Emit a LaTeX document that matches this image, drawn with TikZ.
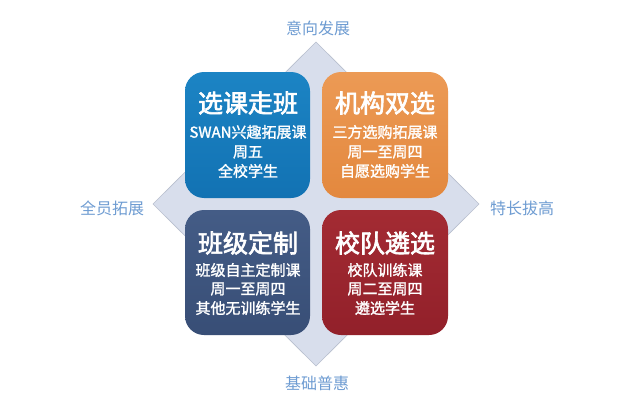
\documentclass[tikz,border=0pt]{standalone}
\usepackage{fontspec}
\newfontfamily\cjk{Noto Sans CJK SC}
\newfontfamily\cjkb{Noto Sans CJK SC}[FakeBold=1.5]
\newfontfamily\cjkbb{Noto Sans CJK SC}[FakeBold=2.5]
\definecolor{cblue}{HTML}{1272B3}
\definecolor{cblueT}{HTML}{1C84C4}
\definecolor{corange}{HTML}{E3883E}
\definecolor{corangeT}{HTML}{EC9A55}
\definecolor{cnavy}{HTML}{384E76}
\definecolor{cnavyT}{HTML}{445C86}
\definecolor{cred}{HTML}{92202A}
\definecolor{credT}{HTML}{A32B33}
\definecolor{cdiam}{HTML}{D8DEEC}
\definecolor{cdiamline}{HTML}{B8BFCE}
\definecolor{clabel}{HTML}{6E9CD2}
\begin{document}
\begin{tikzpicture}[x=1pt,y=-1pt,
  quad/.style={rounded corners=19pt},
  title/.style={text=white,font=\cjkbb\fontsize{25}{25}\selectfont,inner sep=0pt,anchor=center},
  sub/.style={text=white,font=\cjkb\fontsize{15}{15}\selectfont,inner sep=0pt,anchor=center},
  outer/.style={text=clabel,font=\cjk\fontsize{16}{16}\selectfont,inner sep=0pt,anchor=center}]
\useasboundingbox[fill=white] (0,0) rectangle (640,415);
% diamond
\coordinate (dt) at (316,42);
\coordinate (dr) at (479,204);
\coordinate (db) at (316,366);
\coordinate (dl) at (153,204);
\fill[cdiam,draw=cdiamline,line width=0.6pt] (dt) -- (dr) -- (db) -- (dl) -- cycle;
% boxes
\shade[quad,top color=cblueT,bottom color=cblue] (185,72) rectangle (310,198);
\shade[quad,top color=corangeT,bottom color=corange] (322,72) rectangle (448,198);
\shade[quad,top color=cnavyT,bottom color=cnavy] (185,210) rectangle (310,335);
\shade[quad,top color=credT,bottom color=cred] (322,210) rectangle (448,335);
% texts TL
\node[title] (t1) at (248,103) {选课走班};
\node[sub] (s11) at (248,132) {SWAN兴趣拓展课};
\node[sub] (s12) at (248,152) {周五};
\node[sub] (s13) at (248,171) {全校学生};
% TR
\node[title] (t2) at (385,103) {机构双选};
\node[sub] (s21) at (385,132) {三方选购拓展课};
\node[sub] (s22) at (385,152) {周一至周四};
\node[sub] (s23) at (385,171) {自愿选购学生};
% BL
\node[title] (t3) at (248,243) {班级定制};
\node[sub] (s31) at (248,270) {班级自主定制课};
\node[sub] (s32) at (248,289) {周一至周四};
\node[sub] (s33) at (248,308) {其他无训练学生};
% BR
\node[title] (t4) at (385,243) {校队遴选};
\node[sub] (s41) at (385,270) {校队训练课};
\node[sub] (s42) at (385,289) {周二至周四};
\node[sub] (s43) at (385,308) {遴选学生};
% outer labels
\node[outer] (ltop) at (318,28) {意向发展};
\node[outer] (lleft) at (112,208) {全员拓展};
\node[outer] (lright) at (522,208) {特长拔高};
\node[outer] (lbot) at (317,383) {基础普惠};
\end{tikzpicture}
\end{document}
